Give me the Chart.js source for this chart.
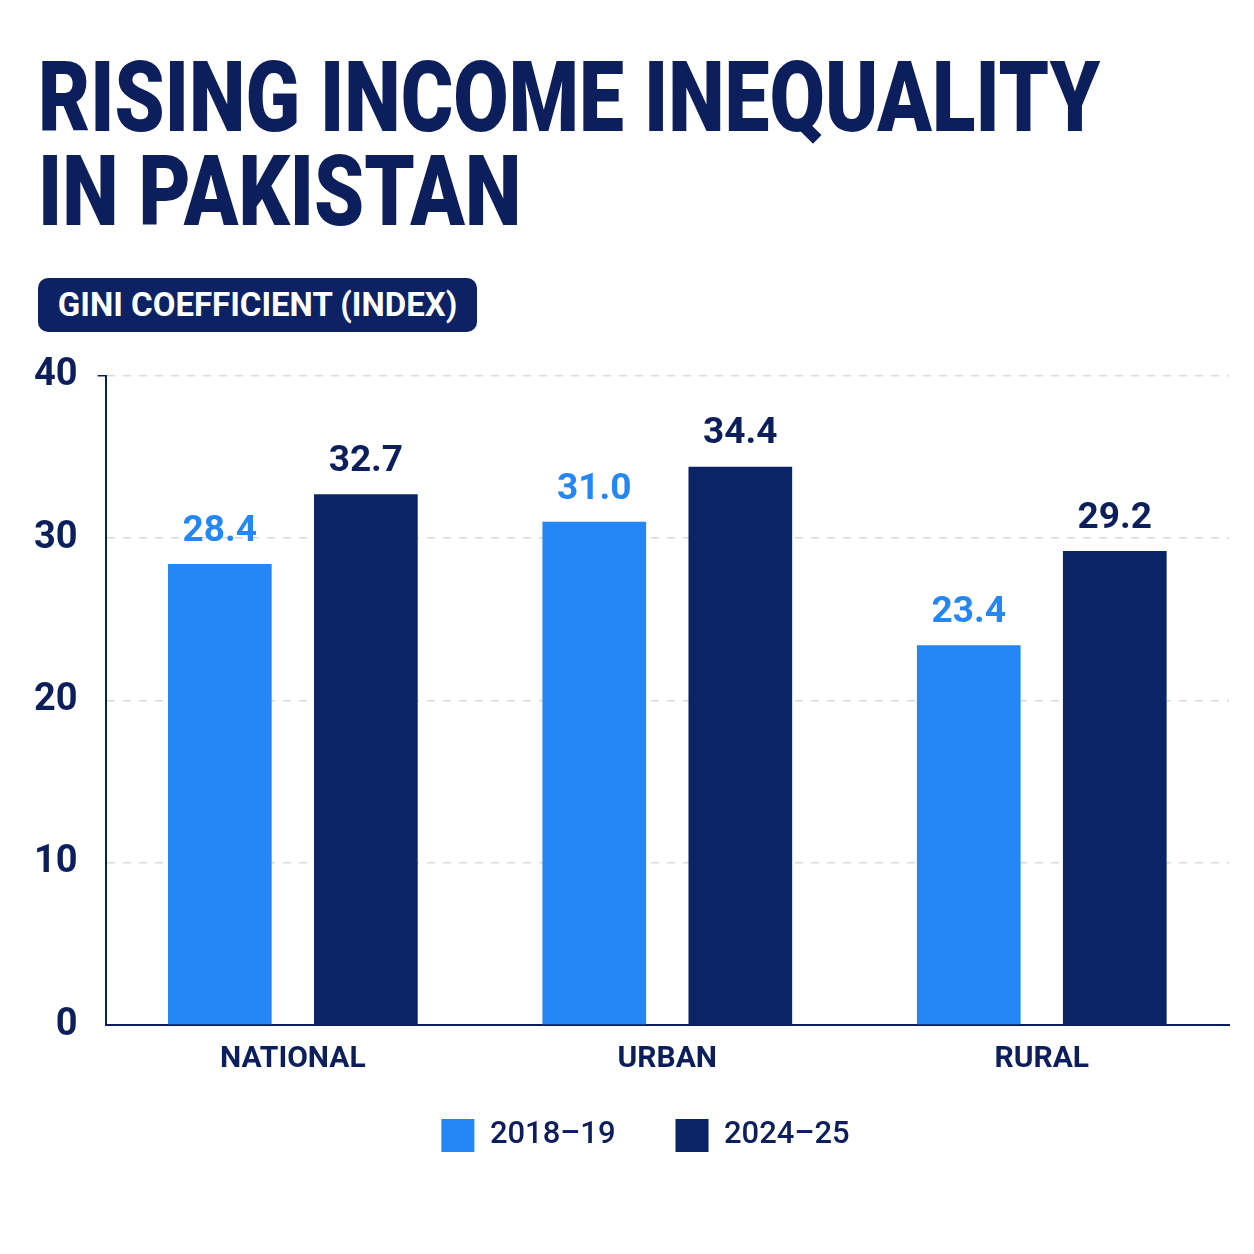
<!DOCTYPE html>
<html>
<head>
<meta charset="utf-8">
<script src="https://cdn.jsdelivr.net/npm/chart.js@4.4.1/dist/chart.umd.min.js"></script>
<style>
  html, body { margin: 0; padding: 0; background: #fff; }
  body { width: 1254px; height: 1254px; position: relative; overflow: hidden; font-family: Roboto, "Noto Sans", sans-serif; }
  #title { position: absolute; left: 38px; top: 51px; color: #0c1f5c; font-weight: 900; font-size: 98px; line-height: 94px; transform-origin: 0 0; white-space: nowrap; }
  #badge { position: absolute; left: 38px; top: 278px; width: 439px; height: 54px; background: #0c2264; border-radius: 10px; color: #fff; font-weight: 700; font-size: 33px; line-height: 54px; text-align: center; }
  #badge span { display: inline-block; transform-origin: 50% 50%; }
  #wrap { position: absolute; left: 0; top: 333px; width: 1254px; height: 855px; }
</style>
</head>
<body>
<div id="title">RISING INCOME INEQUALITY<br>IN PAKISTAN</div>
<div id="badge"><span id="badgeText">GINI COEFFICIENT (INDEX)</span></div>
<div id="wrap"><canvas id="chart"></canvas></div>
<script>
const categories = ['NATIONAL', 'URBAN', 'RURAL'];
const seriesNames = ['2018–19', '2024–25'];
const values2018 = [28.4, 31.0, 23.4];
const values2024 = [32.7, 34.4, 29.2];
const yTicks = [0, 10, 20, 30, 40];

const navy = '#0c1f5c';
const lightBlue = '#2587f6';
const darkBlue = '#0b2466';

// squeeze the title and badge text to the condensed width of the original
const title = document.getElementById('title');
title.style.transform = 'scaleX(' + (1062 / title.scrollWidth) + ')';
const bt = document.getElementById('badgeText');
bt.style.transform = 'scaleX(' + (400 / bt.offsetWidth) + ')';

const valueLabels = {
  id: 'valueLabels',
  afterDatasetsDraw(chart) {
    const ctx = chart.ctx;
    ctx.save();
    ctx.font = '700 37px Roboto';
    ctx.textAlign = 'center';
    ctx.textBaseline = 'bottom';
    chart.data.datasets.forEach((ds, i) => {
      const meta = chart.getDatasetMeta(i);
      ctx.fillStyle = i === 0 ? lightBlue : navy;
      meta.data.forEach((bar, j) => {
        ctx.fillText(ds.data[j].toFixed(1), bar.x, bar.y - 14);
      });
    });
    ctx.restore();
  }
};

// legend padding is big for the horizontal gap; lift the legend block closer to the axis labels
// and nudge it right so it sits under the middle of the plot
const moveLegend = {
  id: 'moveLegend',
  afterLayout(chart) {
    chart.legend.top -= 26;
    chart.legend.bottom -= 26;
    chart.legend.left += 24;
    chart.legend.right += 24;
  }
};

new Chart(document.getElementById('chart'), {
  type: 'bar',
  data: {
    labels: categories,
    datasets: [
      { label: seriesNames[0], data: values2018, backgroundColor: lightBlue },
      { label: seriesNames[1], data: values2024, backgroundColor: darkBlue }
    ]
  },
  options: {
    responsive: true,
    maintainAspectRatio: false,
    animation: false,
    categoryPercentage: 0.78,
    barPercentage: 0.71,
    layout: { padding: { left: 14, right: 25, top: 28, bottom: 0 } },
    scales: {
      x: {
        grid: { display: false },
        border: { color: navy, width: 2 },
        ticks: { color: navy, font: { family: 'Roboto', weight: '700', size: 30 }, padding: 8 }
      },
      y: {
        min: 0,
        max: 40,
        afterBuildTicks: (axis) => { axis.ticks = yTicks.map(v => ({ value: v })); },
        grid: {
          color: (c) => c.tick && c.tick.value === 0 ? 'rgba(0,0,0,0)' : '#d9d9d9',
          tickColor: (c) => c.tick && c.tick.value === 40 ? navy : 'rgba(0,0,0,0)',
          tickLength: 8,
          lineWidth: 1.5
        },
        border: { color: navy, width: 2, dash: [8, 8] },
        ticks: { color: navy, font: { family: 'Roboto', weight: '700', size: 38 }, padding: 20 }
      }
    },
    plugins: {
      legend: {
        position: 'bottom',
        labels: {
          color: navy,
          font: { family: 'Roboto', weight: '500', size: 31 },
          boxWidth: 33,
          boxHeight: 33,
          padding: 60
        }
      },
      tooltip: { enabled: false }
    }
  },
  plugins: [valueLabels, moveLegend]
});
</script>
</body>
</html>
